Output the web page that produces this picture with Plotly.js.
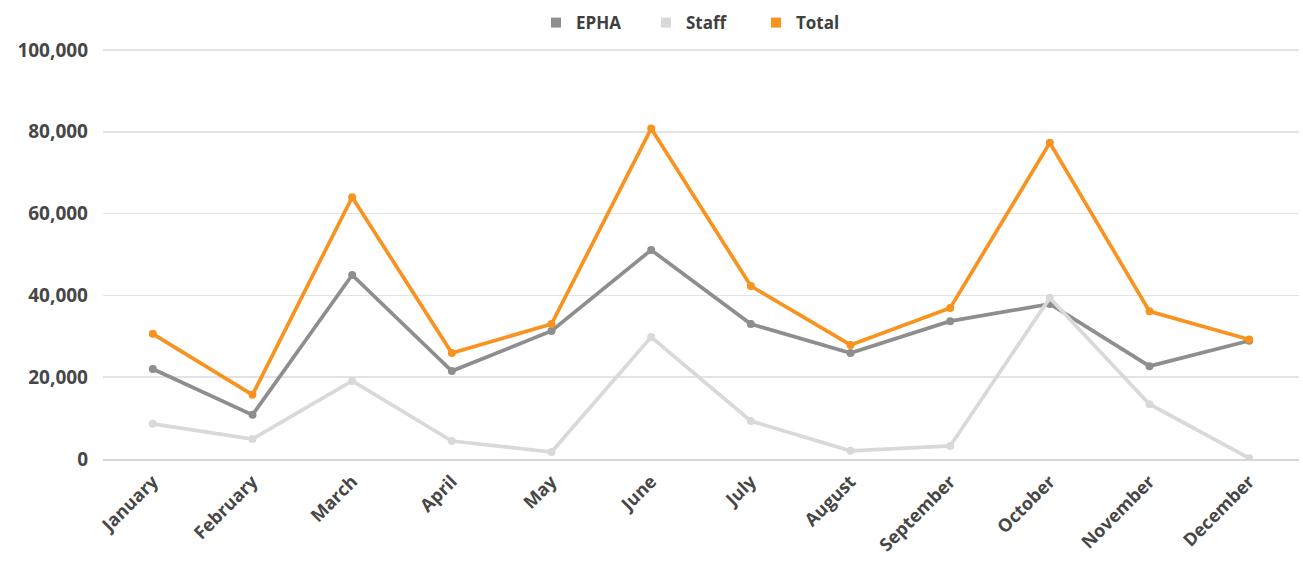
<!DOCTYPE html>
<html>
<head>
<meta charset="utf-8">
<script src="https://cdn.plot.ly/plotly-3.0.1.min.js"></script>
<style>html,body{margin:0;padding:0;background:#fff;}#chart{width:1303px;height:562px;}</style>
</head>
<body>
<div id="chart"></div>
<script>
var months = ["January","February","March","April","May","June","July","August","September","October","November","December"];
var epha  = [22000, 10800, 45000, 21500, 31300, 51100, 33000, 25900, 33700, 37900, 22700, 28900];
var staff = [8600, 4900, 19100, 4400, 1700, 29800, 9300, 2000, 3200, 39400, 13400, 200];
var total = [30600, 15700, 64000, 25900, 33000, 80800, 42300, 27900, 36900, 77300, 36100, 29200];
var seriesNames = ["EPHA", "Staff", "Total"];
var seriesColors = ["#8E8E8E", "#D9D9D9", "#F7931E"];
var seriesData = [epha, staff, total];

var font = "'Open Sans', 'DejaVu Sans', sans-serif";
var traces = [];
seriesData.forEach(function(d, i){
  traces.push({
    x: months, y: d, type: "scatter", mode: "lines+markers", name: seriesNames[i],
    line: {color: seriesColors[i], width: 3.7},
    marker: {color: seriesColors[i], size: 8},
    showlegend: false, hoverinfo: "x+y"
  });
});
seriesData.forEach(function(d, i){
  traces.push({
    x: [null], y: [null], type: "scatter", mode: "markers", name: seriesNames[i],
    marker: {color: seriesColors[i], size: 10, symbol: "square"},
    showlegend: true
  });
});

var layout = {
  width: 1303, height: 562,
  margin: {l: 103, r: 4, t: 49, b: 103},
  paper_bgcolor: "#fff", plot_bgcolor: "#fff",
  font: {family: font, color: "#474747"},
  showlegend: true,
  legend: {orientation: "h", x: 0.5, xanchor: "center", y: 0.959, yanchor: "middle",
           yref: "container", entrywidth: 65, entrywidthmode: "pixels",
           font: {family: font, size: 17, color: "#404040", weight: "bold"},
           itemwidth: 30, tracegroupgap: 0},
  xaxis: {type: "category", range: [-0.5, 11.5], showgrid: false, zeroline: false,
          showline: true, linecolor: "#D6D6D6", linewidth: 2,
          ticks: "", tickangle: -45, ticklabelstandoff: 3,
          tickfont: {family: font, size: 18, color: "#474747", weight: "bold"}},
  yaxis: {range: [0, 100250], dtick: 20000, tickformat: ",d",
          showgrid: true, gridcolor: "#E3E3E3", gridwidth: 1.5,
          zeroline: false, showline: false, ticks: "", ticklen: 0,
          ticklabelstandoff: 14,
          tickfont: {family: font, size: 19, color: "#474747", weight: "bold"}}
};
Plotly.newPlot("chart", traces, layout, {displayModeBar: false, staticPlot: true});
</script>
</body>
</html>
